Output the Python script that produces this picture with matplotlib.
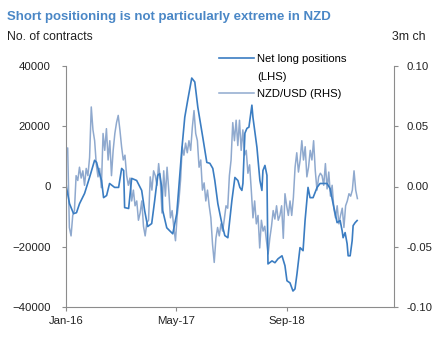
import numpy as np
import matplotlib
matplotlib.use('Agg')
import matplotlib.pyplot as plt

plt.rcParams['font.family'] = ['Liberation Sans', 'DejaVu Sans']

# Net long positions (no. of contracts), x = months since Jan-16
net_long_month = [0, 0.07, 0.51, 1.09, 1.52, 1.96, 2.69, 3.41, 4.14, 4.43, 4.72, 5.15, 5.44, 5.88,
                  6.31, 7.04, 7.62, 8.06, 8.35, 8.49, 9.07, 9.51, 10.23, 10.96, 11.39, 11.83, 12.41,
                  12.84, 13.28, 13.57, 13.86, 14.01, 14.59, 15.02, 15.46, 16.04, 16.76, 17.2, 17.63,
                  18.21, 18.65, 19.09, 19.81, 20.39, 20.83, 21.26, 21.55, 21.99, 22.57, 23.0, 23.44,
                  24.02, 24.46, 24.89, 25.18, 25.47, 25.62, 25.91, 26.2, 26.49, 26.92, 27.07, 27.65,
                  28.08, 28.37, 28.52, 28.81, 29.1, 29.25, 29.83, 30.26, 30.7, 31.28, 31.71, 32.0,
                  32.44, 32.87, 33.16, 33.45, 33.89, 34.33, 34.62, 35.05, 35.34, 35.78, 36.36, 36.79,
                  37.81, 38.24, 38.68, 39.26, 39.7, 39.99, 40.13, 40.42, 40.71, 40.86, 41.15, 41.44,
                  41.58, 41.87, 42.16]
net_long = [1300, -300, -5700, -9000, -8700, -5700, -2300, 3000, 8700, 8000, 5300, 2000, -3700, -3000,
            1000, -300, -300, 6000, 5300, -7000, -7300, 2700, 2000, -1300, -8000, -13300, -12300,
            -4700, 3700, 4300, -300, -8000, -13700, -14700, -15700, -9000, 12000, 23000, 28700,
            36000, 34700, 26300, 16300, 8000, 7700, 6000, 2000, -5700, -12300, -16300, -17000,
            -4700, 3000, 2000, -300, -1300, 1000, 17700, 19300, 19700, 27000, 23000, 13000,
            2000, -1300, 5300, 7000, 3700, -25700, -24700, -25300, -24000, -23000, -26300, -31300,
            -32000, -34700, -34000, -29000, -20300, -21300, -11300, -300, -3700, -3700, -300, 1000,
            1000, -700, -5700, -12000, -11300, -14700, -17000, -15300, -19000, -23000, -23000, -18000,
            -13000, -12000, -11300]

# NZD/USD 3m change, roughly weekly from Jan-16 to Jul-19
nzd_3m = [0.030, 0.032, -0.034, -0.041, -0.024, -0.020, 0.009, 0.005, 0.016, 0.007,
          0.013, 0.001, 0.015, 0.009, 0.024, 0.066, 0.047, 0.038, 0.018, 0.008,
          0.015, -0.001, 0.044, 0.030, 0.048, 0.022, 0.038, 0.009, 0.030, 0.044,
          0.053, 0.059, 0.047, 0.033, 0.022, 0.026, 0.009, 0.001, 0.007, -0.012,
          -0.003, -0.016, -0.012, -0.028, -0.022, -0.012, -0.033, -0.041, -0.030, -0.028,
          0.008, -0.003, 0.013, 0.009, 0.001, 0.019, 0.005, -0.022, 0.013, -0.008,
          0.016, -0.003, -0.026, -0.020, -0.034, -0.045, -0.024, -0.012, 0.005, 0.033,
          0.026, 0.036, 0.028, 0.038, 0.030, 0.049, 0.063, 0.044, 0.038, 0.016,
          0.022, -0.003, 0.003, -0.012, -0.003, -0.016, -0.026, -0.048, -0.063, -0.043,
          -0.034, -0.041, -0.031, -0.037, -0.027, -0.016, -0.018, 0.009, 0.022, 0.053,
          0.038, 0.055, 0.034, 0.055, 0.030, 0.047, 0.026, 0.030, 0.011, 0.018,
          -0.003, -0.026, -0.012, -0.031, -0.024, -0.051, -0.028, -0.037, -0.033, -0.045,
          -0.056, -0.043, -0.033, -0.020, -0.027, -0.016, -0.028, -0.024, -0.016, -0.043,
          -0.006, -0.016, -0.024, -0.012, -0.024, -0.009, 0.016, 0.028, 0.012, 0.022,
          0.038, 0.022, 0.033, 0.008, 0.016, 0.030, 0.022, 0.038, 0.013, -0.003,
          0.008, 0.011, 0.009, 0.001, 0.019, -0.002, 0.012, -0.008, 0.001, -0.018,
          -0.026, -0.016, -0.031, -0.024, -0.018, -0.034, -0.016, -0.012, -0.006, -0.008,
          -0.003, 0.013, -0.003, -0.010]
nzd_month = np.linspace(0, 42.2, len(nzd_3m))

tick_pos = [0, 16, 32]
tick_labels = ['Jan-16', 'May-17', 'Sep-18']

dark = '#3b7dc2'
light = '#8fa9ce'
grey = '#8c8c8c'
txt = '#222222'

fig = plt.figure(figsize=(4.42, 3.37), dpi=100)
ax = fig.add_axes([66/442, 1-307/337, (394-66)/442, (307-66)/337])
ax2 = ax.twinx()

l2, = ax2.plot(nzd_month, nzd_3m, color=light, lw=1.1)
l1, = ax.plot(net_long_month, net_long, color=dark, lw=1.2)
ax.set_zorder(ax2.get_zorder() + 1)
ax.patch.set_visible(False)

ax.set_xlim(0, 47.5)
ax.set_ylim(-40000, 40000)
ax.set_yticks([-40000, -20000, 0, 20000, 40000])
ax2.set_ylim(-0.1, 0.1)
ax2.set_yticks([-0.1, -0.05, 0, 0.05, 0.1])
ax2.set_yticklabels(['-0.10', '-0.05', '0.00', '0.05', '0.10'])
ax.set_xticks(tick_pos)
ax.set_xticklabels(tick_labels)

for a in (ax, ax2):
    a.spines['top'].set_visible(False)
    for s in ('left', 'right', 'bottom'):
        a.spines[s].set_color(grey)
    a.tick_params(colors=grey, labelcolor=txt, labelsize=8.2, length=3, width=0.8)
ax.spines['right'].set_visible(False)
ax2.spines['left'].set_visible(False)
ax2.spines['bottom'].set_visible(False)
ax.tick_params(axis='y', pad=8)
ax2.tick_params(axis='y', pad=6)

fig.text(7/442, 1-17/337, 'Short positioning is not particularly extreme in NZD',
         color='#4a87c6', fontsize=9.5, fontweight='bold', va='center')
fig.text(7/442, 1-37/337, 'No. of contracts', color=txt, fontsize=8.8, va='center')
fig.text(426/442, 1-37/337, '3m ch', color=txt, fontsize=8.8, va='center', ha='right')

# second line of the first legend label gets an empty handle
blank = plt.Line2D([], [], color='none')
fig.legend([l1, blank, l2], ['Net long positions', '(LHS)', 'NZD/USD (RHS)'],
           loc='upper left', bbox_to_anchor=(219/442, 1-54/337), frameon=False,
           fontsize=8.1, handlelength=3.1, handletextpad=0.3, labelspacing=0.68,
           borderaxespad=0, borderpad=0)

fig.savefig('out.png', dpi=100)
